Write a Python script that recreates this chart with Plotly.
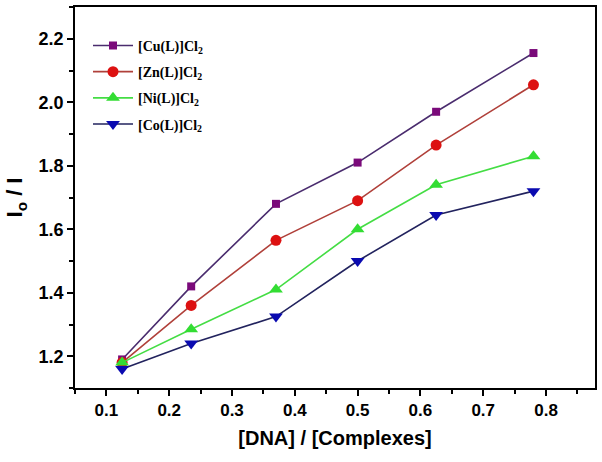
import plotly.graph_objects as go

ratio = [0.125, 0.235, 0.37, 0.5, 0.625, 0.78]
cu = [1.19, 1.42, 1.68, 1.81, 1.97, 2.155]
zn = [1.18, 1.36, 1.565, 1.69, 1.865, 2.055]
ni = [1.18, 1.285, 1.41, 1.60, 1.74, 1.83]
co = [1.16, 1.24, 1.325, 1.50, 1.645, 1.72]

names = ["[Cu(L)]Cl<sub>2</sub>", "[Zn(L)]Cl<sub>2</sub>",
         "[Ni(L)]Cl<sub>2</sub>", "[Co(L)]Cl<sub>2</sub>"]
series = [cu, zn, ni, co]
line_colors = ["#4a2c6e", "#b0403a", "#44dd44", "#22235e"]
marker_colors = ["#7a0a7a", "#dd1111", "#33dd33", "#0a0ab0"]
symbols = ["square", "circle", "triangle-up", "triangle-down"]
sizes = [8, 11, 12, 12]

fig = go.Figure()
for i, (nm, ys) in enumerate(zip(names, series)):
    fig.add_trace(go.Scatter(
        x=ratio, y=ys, name=nm, mode="lines+markers",
        legendgroup=str(i),
        line=dict(color=line_colors[i], width=1.6),
        marker=dict(symbol=symbols[i], size=sizes[i], color=marker_colors[i],
                    line=dict(width=0)),
    ))

axis_common = dict(
    showline=True, linecolor="black", linewidth=1.5, mirror=True,
    ticks="outside", ticklen=6, tickwidth=1.5, tickcolor="black",
    showgrid=False, zeroline=False,
    minor=dict(ticks="outside", ticklen=4, tickwidth=1.5, tickcolor="black", showgrid=False),
)

fig.update_layout(
    width=602, height=462,
    margin=dict(l=75, r=7, t=5, b=74),
    paper_bgcolor="white", plot_bgcolor="white",
    font=dict(family="Liberation Sans, Arial", color="black"),
    showlegend=True,
    legend=dict(x=0.025, y=0.94, xanchor="left", yanchor="top",
                bgcolor="rgba(0,0,0,0)", tracegroupgap=5,
                font=dict(family="Liberation Serif, Times New Roman", size=14,
                          color="black", weight="bold"),
                itemwidth=40),
    xaxis=dict(range=[0.05, 0.878], tickmode="array",
               tickvals=[0.1, 0.2, 0.3, 0.4, 0.5, 0.6, 0.7, 0.8],
               ticktext=["0.1", "0.2", "0.3", "0.4", "0.5", "0.6", "0.7", "0.8"],
               tickfont=dict(family="Liberation Sans, Arial", size=17, color="black", weight="bold"),
               title=dict(text="[DNA] / [Complexes]", standoff=12,
                          font=dict(family="Liberation Sans, Arial", size=20, weight="bold")),
               **axis_common),
    yaxis=dict(range=[1.1, 2.3], tickmode="array",
               tickvals=[1.2, 1.4, 1.6, 1.8, 2.0, 2.2],
               ticktext=["1.2", "1.4", "1.6", "1.8", "2.0", "2.2"],
               tickfont=dict(family="Liberation Sans, Arial", size=18, color="black", weight="bold"),
               title=dict(text="I<sub>o</sub> / I", standoff=10,
                          font=dict(family="Liberation Sans, Arial", size=22, weight="bold")),
               **axis_common),
)
fig.update_xaxes(minor=dict(dtick=0.05, tick0=0.05))
fig.update_yaxes(minor=dict(dtick=0.1, tick0=1.1))

fig.write_html("out.html")
